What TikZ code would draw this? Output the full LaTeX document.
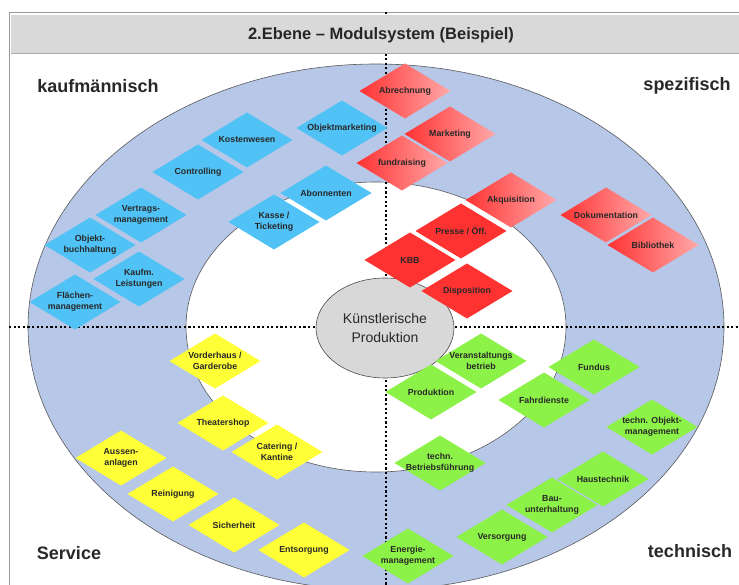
\documentclass[tikz,border=0pt]{standalone}
\usepackage{fontspec}
\setmainfont{Liberation Sans}
\usetikzlibrary{shapes.geometric}

\definecolor{ringblau}{RGB}{182,199,232}
\definecolor{titelgrau}{RGB}{217,217,217}
\definecolor{mittegrau}{RGB}{216,216,216}
\definecolor{kblau}{RGB}{80,194,245}
\definecolor{tgruen}{RGB}{140,242,72}
\definecolor{sgelb}{RGB}{255,255,55}
\definecolor{srot}{RGB}{255,50,50}
\definecolor{shell}{RGB}{255,168,168}
\definecolor{schrift}{RGB}{40,40,40}

\begin{document}
\begin{tikzpicture}[x=1pt, y=-1pt,
  modul/.style={diamond, minimum width=91pt, minimum height=55pt,
                inner sep=0pt, outer sep=0pt},
  modtext/.style={font=\fontsize{8.8}{11}\selectfont\bfseries, text=schrift,
                  align=center, inner sep=0pt},
  kaufm/.style={modul, fill=kblau},
  spez/.style={modul, left color=srot, right color=shell},
  kern/.style={modul, fill=srot},
  serv/.style={modul, fill=sgelb},
  techn/.style={modul, fill=tgruen},
  ecke/.style={font=\fontsize{18}{20}\selectfont\bfseries, text=schrift},
  punkte/.style={line width=2.2pt, dash pattern=on 2.2pt off 2.4pt}]

\useasboundingbox (0,0) rectangle (739,585);
\clip (0,0) rectangle (739,585);
\fill[white] (0,0) rectangle (739,585);

% Ringe
\filldraw[fill=ringblau, draw=gray!70!black, line width=0.6pt]
  (376,327) ellipse [x radius=348, y radius=263];
\filldraw[fill=white, draw=gray!70!black, line width=0.6pt]
  (376,327) ellipse [x radius=190, y radius=145];

% Rahmen und Achsen
\coordinate (oben) at (386,12);
\coordinate (unten) at (386,585);
\coordinate (links) at (9,327);
\coordinate (rechts) at (739,327);
\draw[gray!80, line width=0.8pt] (9,585) -- (9,12) -- (739,12);
\draw[punkte] (oben) -- (unten);
\draw[punkte] (links) -- (rechts);

% Titel
\fill[titelgrau] (11,15) rectangle (739,53);
\draw[gray!65, line width=1.2pt] (11,53.5) -- (739,53.5);
\node[font=\fontsize{16.5}{18}\selectfont\bfseries, text=black!85] (titel)
  at (381,35) {2.Ebene -- Modulsystem (Beispiel)};

% Mitte
\node[ellipse, fill=mittegrau, draw=gray!60!black, line width=0.6pt,
      minimum width=138pt, minimum height=100pt, inner sep=0pt,
      align=center, text=schrift, font=\fontsize{14}{19}\selectfont]
  (kunst) at (385,328) {K\"unstlerische\\Produktion};

% kaufmaennisch
\node[kaufm, label={[modtext]center:Kostenwesen}] (kosten) at (247,140) {};
\node[kaufm, label={[modtext]center:Controlling}] (controlling) at (198,172) {};
\node[kaufm, label={[modtext]center:Objektmarketing}] (objmarketing) at (342,128) {};
\node[kaufm, label={[modtext]center:Abonnenten}] (abonnenten) at (326,193) {};
\node[kaufm, label={[modtext]center:Kasse /\\Ticketing}] (kasse) at (274,222) {};
\node[kaufm, label={[modtext]center:Vertrags-\\management}] (vertrag) at (141,215) {};
\node[kaufm, label={[modtext]center:Objekt-\\buchhaltung}] (objbuch) at (90,245) {};
\node[kaufm, label={[modtext]center:Kaufm.\\Leistungen}] (leistung) at (139,279) {};
\node[kaufm, label={[modtext]center:Fl\"achen-\\management}] (flaechen) at (75,302) {};

% spezifisch
\node[spez, label={[modtext]center:Abrechnung}] (abrechnung) at (405,91) {};
\node[spez, label={[modtext]center:Marketing}] (marketing) at (450,134) {};
\node[spez, label={[modtext]center:fundraising}] (fundraising) at (402,163) {};
\node[spez, label={[modtext]center:Akquisition}] (akquise) at (511,200) {};
\node[spez, label={[modtext]center:Dokumentation}] (doku) at (606,215) {};
\node[spez, label={[modtext]center:Bibliothek}] (biblio) at (653,245) {};
\node[kern, label={[modtext]center:Presse / \"Off.}] (presse) at (461,231) {};
\node[kern, label={[modtext]center:KBB}] (kbb) at (410,260) {};
\node[kern, label={[modtext]center:Disposition}] (dispo) at (467,291) {};

% Service
\node[serv, label={[modtext]center:Vorderhaus /\\Garderobe}] (vorderhaus) at (215,361) {};
\node[serv, label={[modtext]center:Theatershop}] (shop) at (223,423) {};
\node[serv, label={[modtext]center:Catering /\\Kantine}] (catering) at (277,452) {};
\node[serv, label={[modtext]center:Aussen-\\anlagen}] (aussen) at (121,458) {};
\node[serv, label={[modtext]center:Reinigung}] (reinigung) at (173,494) {};
\node[serv, label={[modtext]center:Sicherheit}] (sicherheit) at (234,525) {};
\node[serv, label={[modtext]center:Entsorgung}] (entsorgung) at (304,550) {};

% technisch
\node[techn, label={[modtext]center:Veranstaltungs\\betrieb}] (veranst) at (481,361) {};
\node[techn, label={[modtext]center:Produktion}] (produktion) at (431,392) {};
\node[techn, label={[modtext]center:Fundus}] (fundus) at (594,367) {};
\node[techn, label={[modtext]center:Fahrdienste}] (fahrdienst) at (544,400) {};
\node[techn, label={[modtext]center:techn. Objekt-\\management}] (technobj) at (652,427) {};
\node[techn, label={[modtext]center:techn.\\Betriebsf\"uhrung}] (betrieb) at (440,463) {};
\node[techn, label={[modtext]center:Haustechnik}] (haustechnik) at (603,479) {};
\node[techn, label={[modtext]center:Bau-\\unterhaltung}] (bau) at (552,505) {};
\node[techn, label={[modtext]center:Versorgung}] (versorgung) at (502,537) {};
\node[techn, label={[modtext]center:Energie-\\management}] (energie) at (408,556) {};

% Ecken
\node[ecke] (kaufmlabel) at (98,86) {kaufm\"annisch};
\node[ecke] (spezlabel) at (687,86) {spezifisch};
\node[ecke] (servlabel) at (69,553) {Service};
\node[ecke] (technlabel) at (690,551) {technisch};

\end{tikzpicture}
\end{document}
